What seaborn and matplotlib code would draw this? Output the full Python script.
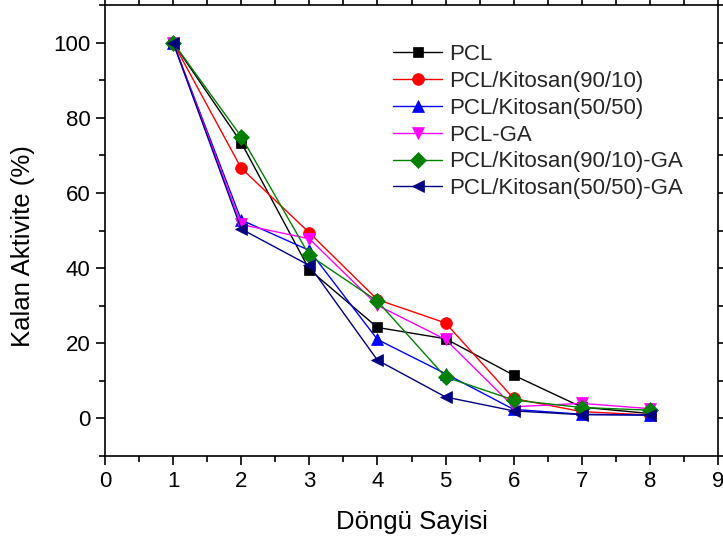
import matplotlib
matplotlib.use("Agg")
import matplotlib.pyplot as plt
import seaborn as sns
import pandas as pd
from matplotlib.ticker import MultipleLocator

cycles = [1, 2, 3, 4, 5, 6, 7, 8]
series_names = ["PCL", "PCL/Kitosan(90/10)", "PCL/Kitosan(50/50)", "PCL-GA",
                "PCL/Kitosan(90/10)-GA", "PCL/Kitosan(50/50)-GA"]
pcl = [100, 73.4, 39.6, 24.2, 21.2, 11.5, 3.0, 1.3]
pcl_k9010 = [100, 66.6, 49.4, 31.6, 25.4, 5.3, 1.8, 0.9]
pcl_k5050 = [100, 52.8, 44.7, 21.0, 11.9, 2.4, 1.1, 0.9]
pcl_ga = [100, 51.6, 47.8, 30.1, 21.0, 3.1, 4.0, 2.6]
pcl_k9010_ga = [100, 75.0, 43.4, 31.2, 11.0, 4.9, 2.9, 2.2]
pcl_k5050_ga = [100, 50.4, 40.7, 15.5, 5.7, 2.0, 1.0, 0.9]
values = [pcl, pcl_k9010, pcl_k5050, pcl_ga, pcl_k9010_ga, pcl_k5050_ga]
colors = ["#000000", "#ff0000", "#0000ff", "#ff00ff", "#008000", "#000080"]
markers = ["s", "o", "^", "v", "D", "<"]
msizes = [7.5, 8.5, 9, 9, 8, 9]

sns.set_theme(style="ticks")
plt.rcParams['font.family'] = ['Liberation Sans', 'DejaVu Sans']

fig = plt.figure(figsize=(7.23, 5.41), dpi=100)
ax = fig.add_axes([105/723, 85/541, 613/723, 451/541])

for name, vals, c, m, ms in zip(series_names, values, colors, markers, msizes):
    df = pd.DataFrame({"x": cycles, "y": vals})
    sns.lineplot(data=df, x="x", y="y", ax=ax, color=c, marker=m, markersize=ms,
                 markeredgecolor=c, markeredgewidth=0.5, linewidth=1.0, label=name)

ax.set_xlim(0, 9)
ax.set_ylim(-10, 110)
ax.xaxis.set_major_locator(MultipleLocator(1))
ax.xaxis.set_minor_locator(MultipleLocator(0.5))
ax.yaxis.set_major_locator(MultipleLocator(20))
ax.yaxis.set_minor_locator(MultipleLocator(10))
ax.tick_params(which="both", direction="out", top=True, right=True,
               labeltop=False, labelright=False, color="black", width=1.2)
ax.tick_params(which="major", length=6.5, labelsize=16, pad=4, labelcolor="black")
ax.tick_params(which="minor", length=4)
for s in ax.spines.values():
    s.set_visible(True)
    s.set_linewidth(1.2)
    s.set_color("black")

ax.set_xlabel("Döngü Sayisi", fontsize=18.5, color="black", labelpad=13)
ax.set_ylabel("Kalan Aktivite (%)", fontsize=18.5, color="black")
ax.yaxis.set_label_coords(-0.114, 0.4645)

leg = ax.legend(loc="upper left", bbox_to_anchor=(0.47, 0.913), frameon=False,
                fontsize=16, borderaxespad=0, borderpad=0, labelspacing=0.26,
                handlelength=2.2, handletextpad=0.3)

fig.savefig("out.png", dpi=100, facecolor="white")
